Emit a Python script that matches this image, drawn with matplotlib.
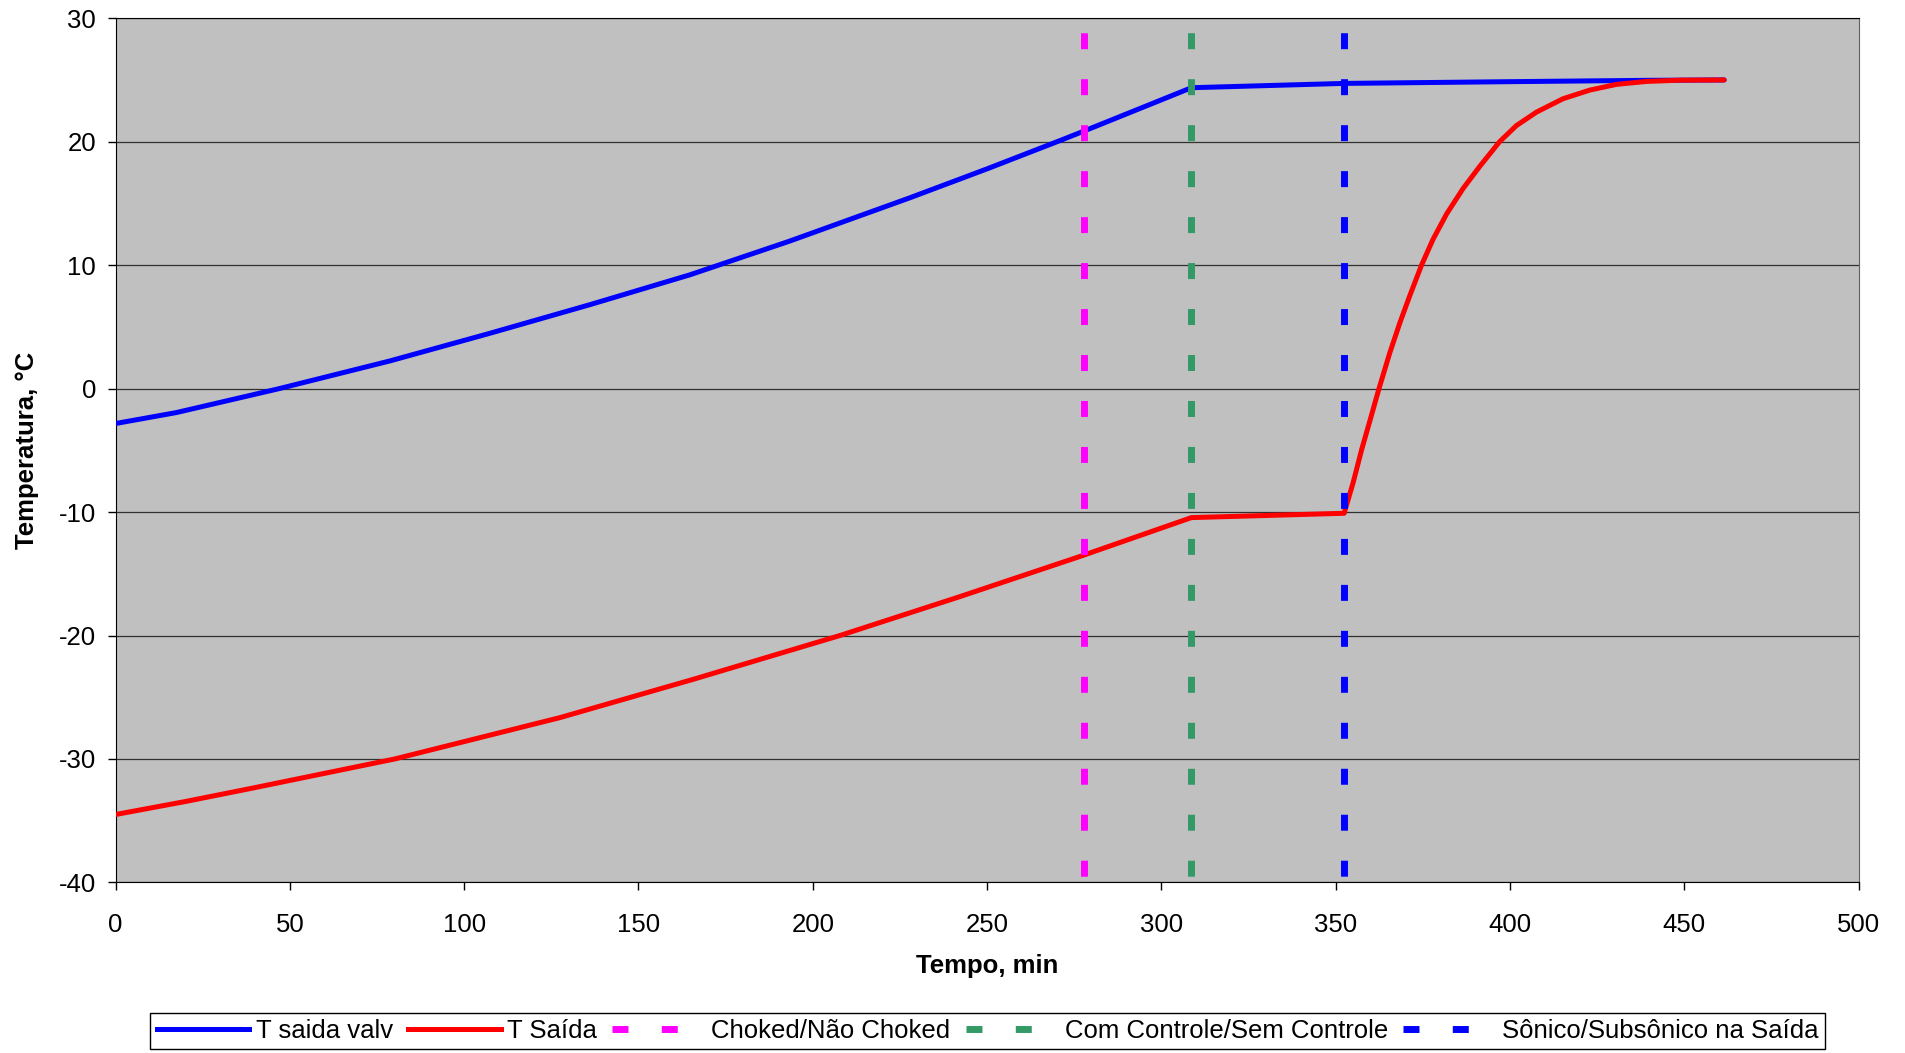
import numpy as np
import matplotlib
matplotlib.use("Agg")
import matplotlib.pyplot as plt
from matplotlib.lines import Line2D

plt.rcParams['font.family'] = ['Liberation Sans', 'DejaVu Sans']
plt.rcParams['lines.scale_dashes'] = False
plt.rcParams['axes.unicode_minus'] = False

# T saida valv (blue)
t_valv = [0, 17.5, 47, 78.7, 107.4, 136.1, 164.8, 193.4, 227.8, 250, 271, 277.7, 308.6,
          352.4, 400, 440, 461.4]
T_valv = [-2.83, -1.94, 0.0, 2.24, 4.48, 6.80, 9.22, 11.95, 15.45, 17.8, 20.1, 20.85, 24.37,
          24.72, 24.86, 24.97, 25.0]

# T Saida (red)
t_said = [0, 20, 39.5, 80.1, 127.5, 165.7, 207.8, 242.2, 276.6, 308.6, 352.4,
          355.0, 357.4, 360.0, 362.4, 365.5, 368.4, 371.2, 374.6, 377.9, 381.8, 386.5,
          391.3, 397.0, 401.8, 407.6, 415.2, 422.9, 430.5, 439.1, 448.7, 461.4]
T_said = [-34.5, -33.45, -32.35, -30.0, -26.65, -23.55, -20.0, -16.85, -13.6, -10.45, -10.1,
          -7.6, -4.97, -2.4, 0.0, 2.9, 5.34, 7.5, 10.0, 12.09, 14.15, 16.2,
          18.0, 20.0, 21.3, 22.4, 23.48, 24.18, 24.64, 24.88, 24.98, 25.0]

# transition markers
marc_t = [277.7, 308.6, 352.4]
marc_lbl = ['Choked/Não Choked', 'Com Controle/Sem Controle', 'Sônico/Subsônico na Saída']
marc_cor = ['#FF00FF', '#339966', '#0000FF']

fs = 18.5
fig = plt.figure(figsize=(19.06, 10.53), dpi=100)
ax = fig.add_axes([0.0606, 0.162, 0.9146, 0.8207])
ax.set_facecolor('#C0C0C0')

ax.plot(t_valv, T_valv, color='#0000FF', lw=3.6, solid_capstyle='round', solid_joinstyle='round', zorder=3)
ax.plot(t_said, T_said, color='#FF0000', lw=3.6, solid_capstyle='round', solid_joinstyle='round', zorder=3)
for x, c in zip(marc_t, marc_cor):
    ax.plot([x, x], [30, -40], color=c, lw=5, linestyle=(22.5, (11.5, 21.6)),
            dash_capstyle='butt', zorder=4)

ax.set_xlim(0, 500)
ax.set_ylim(-40, 30)
ax.set_xticks(np.arange(0, 501, 50))
ax.set_yticks(np.arange(-40, 31, 10))
ax.yaxis.grid(True, color='#303030', lw=0.9)
ax.set_axisbelow(True)
ax.tick_params(axis='both', direction='out', length=6, width=1, labelsize=fs, colors='black')
ax.tick_params(axis='x', pad=16)
ax.tick_params(axis='y', pad=8)
for s in ['left', 'bottom', 'top']:
    ax.spines[s].set_color('black')
ax.spines['right'].set_color('#606060')

ax.set_xlabel('Tempo, min', fontsize=fs, fontweight='bold', va='center')
ax.xaxis.set_label_coords(0.5, -0.0966)
ax.set_ylabel('Temperatura, °C', fontsize=fs, fontweight='bold', va='center')
ax.yaxis.set_label_coords(-0.0508, 0.5)

hands = [Line2D([], [], color='#0000FF', lw=3.6),
         Line2D([], [], color='#FF0000', lw=3.6)]
for c in marc_cor:
    hands.append(Line2D([], [], color=c, lw=5, linestyle=(0, (11.5, 24)), dash_capstyle='butt'))
labs = ['T saida valv', 'T Saída'] + marc_lbl
leg = fig.legend(hands, labs, loc='center', bbox_to_anchor=(0.5182, 0.0209), ncol=5,
                 fontsize=fs, frameon=True, fancybox=False, edgecolor='black', framealpha=1,
                 handlelength=3.6, handletextpad=0.25, columnspacing=0.6, borderpad=0.25,
                 borderaxespad=0)
leg.get_frame().set_linewidth(1.0)

fig.savefig('out.png', dpi=100)
